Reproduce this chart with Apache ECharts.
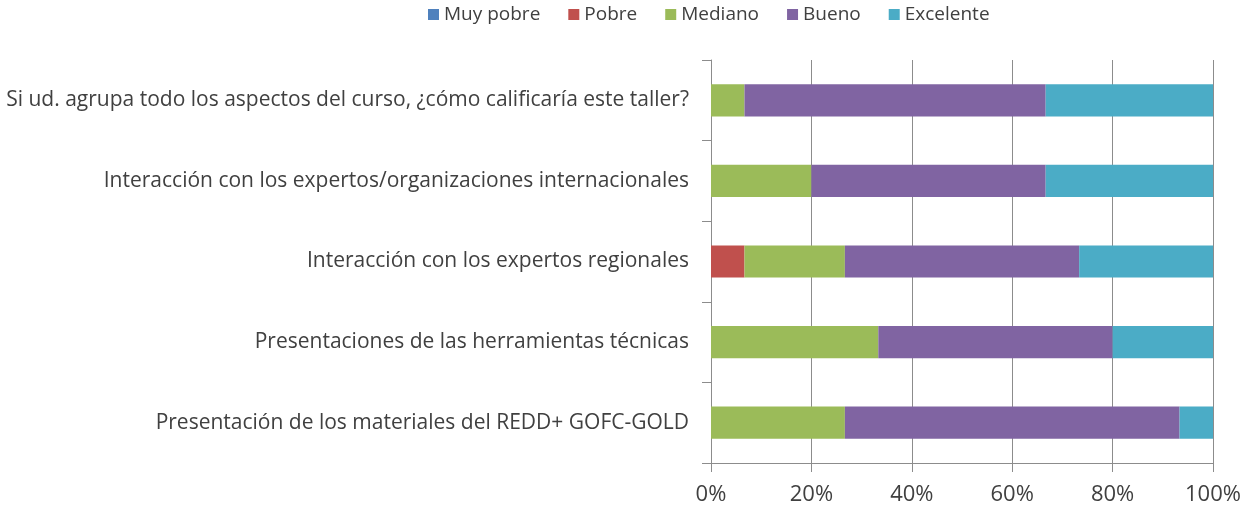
<!DOCTYPE html>
<html>
<head>
<meta charset="utf-8">
<script src="https://cdn.jsdelivr.net/npm/echarts@6/dist/echarts.min.js"></script>
<style>
  html, body { margin: 0; padding: 0; background: #fff; }
  #chart { width: 1241px; height: 507px; }
</style>
</head>
<body>
<div id="chart"></div>
<script>
// categorías (de arriba hacia abajo)
const categories = [
  'Si ud. agrupa todo los aspectos del curso, ¿cómo calificaría este taller?',
  'Interacción con los expertos/organizaciones internacionales',
  'Interacción con los expertos regionales',
  'Presentaciones de las herramientas técnicas',
  'Presentación de los materiales del REDD+ GOFC-GOLD'
];
const seriesNames = ['Muy pobre', 'Pobre', 'Mediano', 'Bueno', 'Excelente'];

// porcentajes por categoría
const muyPobre  = [0, 0, 0, 0, 0];
const pobre     = [0, 0, 6.67, 0, 0];
const mediano   = [6.67, 20, 20, 33.33, 26.67];
const bueno     = [60, 46.67, 46.67, 46.67, 66.67];
const excelente = [33.33, 33.33, 26.67, 20, 6.67];

const xTicks = [0, 20, 40, 60, 80, 100];

const colors = ['#4F81BD', '#C0504D', '#9BBB59', '#8064A2', '#4BACC6'];
const values = [muyPobre, pobre, mediano, bueno, excelente];

const chart = echarts.init(document.getElementById('chart'));
const textColor = '#404040';
const font = '"Open Sans", sans-serif';

chart.setOption({
  animation: false,
  color: colors,
  textStyle: { fontFamily: font },
  legend: {
    top: 0,
    left: 423,
    itemWidth: 11,
    itemHeight: 11,
    itemGap: 28,
    icon: 'rect',
    textStyle: { fontSize: 19, color: textColor, fontFamily: font },
    data: seriesNames
  },
  grid: { left: 711, right: 28, top: 60, bottom: 44, outerBoundsMode: 'none' },
  xAxis: {
    type: 'value',
    min: xTicks[0],
    max: xTicks[xTicks.length - 1],
    interval: 20,
    axisLine: { show: true, lineStyle: { color: '#8c8c8c', width: 1 } },
    axisTick: { show: true, length: 9, lineStyle: { color: '#8c8c8c' } },
    splitLine: { show: true, lineStyle: { color: '#8c8c8c', width: 1 } },
    axisLabel: { formatter: '{value}%', fontSize: 22, color: textColor, margin: 21, fontFamily: font }
  },
  yAxis: {
    type: 'category',
    inverse: true,
    data: categories,
    axisLine: { show: true, lineStyle: { color: '#8c8c8c', width: 1 } },
    axisTick: { show: true, length: 9, lineStyle: { color: '#8c8c8c' } },
    axisLabel: { fontSize: 21, color: textColor, margin: 22, fontFamily: font }
  },
  series: seriesNames.map((name, i) => ({
    name: name,
    type: 'bar',
    stack: 'total',
    barWidth: '40%',
    data: values[i]
  }))
});
</script>
</body>
</html>
